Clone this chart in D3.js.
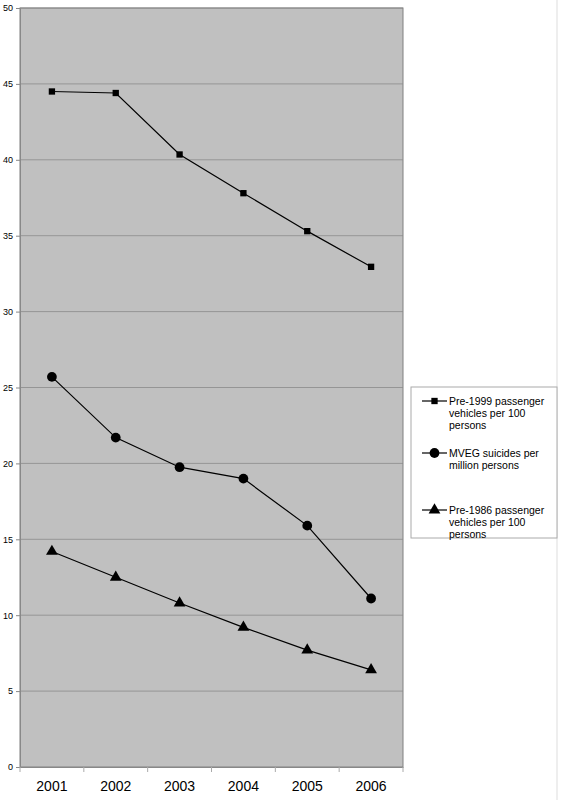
<!DOCTYPE html><html><head><script src="https://d3js.org/d3.v7.min.js"></script>
<style>body{margin:0;background:#fff}</style></head><body><script>
const years=["2001","2002","2003","2004","2005","2006"];
const pre1999=[44.5,44.4,40.35,37.8,35.3,32.95];
const mveg=[25.7,21.7,19.75,19.0,15.9,11.1];
const pre1986=[14.2,12.5,10.8,9.2,7.7,6.4];
const yTicks=[0,5,10,15,20,25,30,35,40,45,50];
const names=["Pre-1999 passenger vehicles per 100 persons","MVEG suicides per million persons","Pre-1986 passenger vehicles per 100 persons"];
const legendLines=[["Pre-1999 passenger","vehicles per 100","persons"],["MVEG suicides per","million persons"],["Pre-1986 passenger","vehicles per 100","persons"]];
const svg=d3.select("body").append("svg").attr("width",561).attr("height",800).style("font-family","Liberation Sans, Arial, sans-serif");
const L=20,R=403,T=8,B=767;
const x=d3.scaleBand().domain(years).range([L,R]);
const y=d3.scaleLinear().domain([0,50]).range([B,T]);
svg.append("rect").attr("x",L).attr("y",T).attr("width",R-L).attr("height",B-T).attr("fill","#c0c0c0").attr("stroke","#808080");
svg.selectAll(".g").data(yTicks.slice(1)).join("line").attr("x1",L).attr("x2",R).attr("y1",d=>y(d)).attr("y2",d=>y(d)).attr("stroke","#8a8a8a").attr("stroke-width",0.8);
svg.append("line").attr("x1",557).attr("x2",557).attr("y1",0).attr("y2",800).attr("stroke","#ddd");
const ya=svg.append("g").attr("transform",`translate(${L},0)`).call(d3.axisLeft(y).tickValues(yTicks).tickSize(4).tickPadding(3));
ya.select(".domain").attr("stroke","#888");ya.selectAll("line").attr("stroke","#888");
ya.selectAll("text").attr("font-size",9).attr("fill","#000").attr("font-family","Liberation Sans, Arial");
const xa=svg.append("g").attr("transform",`translate(0,${B})`).call(d3.axisBottom(x).tickSize(0).tickPadding(14));
xa.select(".domain").attr("stroke","#888");
xa.selectAll("text").attr("font-size",14).attr("fill","#000").attr("font-family","Liberation Sans, Arial");
svg.selectAll(".xt").data(d3.range(years.length+1)).join("line").attr("x1",i=>L+i*x.step()).attr("x2",i=>L+i*x.step()).attr("y1",B).attr("y2",B+5).attr("stroke","#aaa");
const series=[pre1999,mveg,pre1986];
const shapes=[d3.symbolSquare,d3.symbolCircle,d3.symbolTriangle];
const sizes=[40,75,60];
const cx=d=>x(d)+x.bandwidth()/2;
series.forEach((s,k)=>{
 svg.append("path").attr("d",d3.line().x((d,i)=>cx(years[i])).y(d=>y(d))(s)).attr("fill","none").attr("stroke","#000").attr("stroke-width",1.2);
 svg.selectAll(null).data(s).join("path").attr("transform",(d,i)=>`translate(${cx(years[i])},${y(d)})`).attr("d",d3.symbol(shapes[k],sizes[k])).attr("fill","#000");
});
svg.append("rect").attr("x",411).attr("y",387).attr("width",146).attr("height",151).attr("fill","#fff").attr("stroke","#aaa");
const ly=[396,448,505];
legendLines.forEach((lines,k)=>{
 const g=svg.append("g");
 g.append("line").attr("x1",422).attr("x2",447).attr("y1",ly[k]+5).attr("y2",ly[k]+5).attr("stroke","#000").attr("stroke-width",1.2);
 g.append("path").attr("transform",`translate(434.5,${ly[k]+5})`).attr("d",d3.symbol(shapes[k],sizes[k])).attr("fill","#000");
 lines.forEach((t,j)=>g.append("text").attr("x",449).attr("y",ly[k]+9+j*12).attr("font-size",10.5).text(t));
});
</script></body></html>
